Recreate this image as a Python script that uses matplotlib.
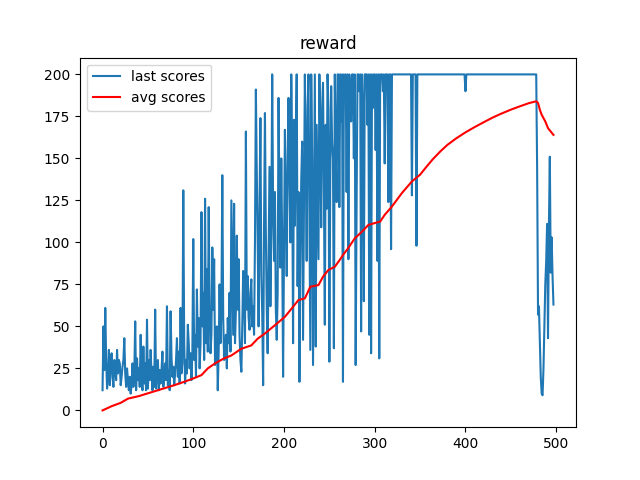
import numpy as np
import matplotlib
matplotlib.use("Agg")
import matplotlib.pyplot as plt

last_scores = [
    12, 50, 24, 61, 30, 13, 22, 36, 15, 28,
    34, 20, 14, 30, 25, 18, 36, 22, 30, 28,
    15, 20, 26, 30, 43, 22, 14, 25, 18, 12,
    20, 10, 15, 28, 14, 22, 53, 12, 31, 18,
    25, 14, 45, 20, 12, 38, 16, 28, 12, 54,
    13, 30, 18, 36, 22, 12, 26, 14, 60, 13,
    22, 30, 12, 24, 16, 24, 35, 14, 20, 28,
    18, 62, 15, 24, 12, 59, 32, 20, 26, 15,
    22, 30, 43, 20, 35, 16, 61, 22, 28, 131,
    40, 16, 30, 22, 51, 40, 25, 34, 18, 35,
    102, 30, 45, 20, 72, 38, 55, 25, 40, 118,
    50, 70, 30, 126, 40, 84, 35, 121, 60, 34,
    45, 97, 60, 90, 27, 40, 50, 12, 35, 75,
    40, 60, 140, 55, 30, 34, 45, 25, 55, 40,
    70, 35, 125, 83, 45, 123, 40, 60, 104, 60,
    90, 45, 30, 23, 50, 83, 70, 40, 166, 60,
    80, 55, 48, 70, 78, 50, 62, 45, 100, 191,
    142, 100, 50, 120, 174, 80, 58, 15, 110, 177,
    106, 60, 34, 90, 145, 62, 110, 200, 120, 89,
    130, 60, 42, 70, 186, 120, 85, 150, 100, 20,
    90, 167, 120, 80, 150, 186, 139, 100, 200, 150,
    40, 173, 110, 160, 200, 74, 130, 17, 90, 137,
    160, 42, 120, 200, 150, 89, 180, 200, 120, 36,
    200, 150, 27, 110, 200, 38, 170, 129, 90, 200,
    160, 109, 180, 195, 130, 51, 170, 120, 200, 180,
    29, 140, 193, 160, 150, 37, 200, 153, 124, 200,
    200, 121, 200, 172, 200, 17, 200, 193, 200, 130,
    200, 90, 200, 185, 172, 200, 200, 150, 200, 27,
    121, 200, 200, 190, 200, 47, 200, 180, 65, 200,
    200, 200, 170, 200, 45, 200, 34, 200, 180, 200,
    200, 155, 200, 89, 200, 31, 200, 200, 200, 190,
    200, 147, 200, 200, 200, 124, 200, 200, 96, 200,
    200, 200, 200, 200, 200, 200, 200, 200, 200, 200,
    200, 200, 200, 200, 200, 200, 200, 200, 200, 200,
    200, 128, 200, 200, 200, 200, 98, 200, 200, 200,
    200, 200, 200, 200, 200, 200, 200, 200, 200, 200,
    200, 200, 200, 200, 200, 200, 200, 200, 200, 200,
    200, 200, 200, 200, 200, 200, 200, 200, 200, 200,
    200, 200, 200, 200, 200, 200, 200, 200, 200, 200,
    200, 200, 200, 200, 200, 200, 200, 200, 200, 200,
    190, 200, 200, 200, 200, 200, 200, 200, 200, 200,
    200, 200, 200, 200, 200, 200, 200, 200, 200, 200,
    200, 200, 200, 200, 200, 200, 200, 200, 200, 200,
    200, 200, 200, 200, 200, 200, 200, 200, 200, 200,
    200, 200, 200, 200, 200, 200, 200, 200, 200, 200,
    200, 200, 200, 200, 200, 200, 200, 200, 200, 200,
    200, 200, 200, 200, 200, 200, 200, 200, 200, 200,
    200, 200, 200, 200, 200, 200, 200, 200,
    200, 145, 57, 62, 40, 20, 10, 9, 25, 50,
    75, 89, 111, 43, 110, 151, 82, 103, 80, 63,
]

avg_episodes = [0, 10, 20, 28, 40, 55, 67, 79, 90, 100, 109, 116, 124, 133,
                142, 153, 164, 171, 179, 190, 201, 210, 216, 223, 229, 238,
                243, 249, 256, 262, 265, 270, 278, 286, 293, 300, 306, 311,
                319, 330, 341, 350, 357, 364, 372, 380, 390, 400, 410, 420,
                430, 438, 450, 460, 470, 478, 480, 482, 484, 486, 488, 491,
                494, 497]
avg_scores = [0, 2.5, 4.5, 7, 8.5, 11, 13, 15, 17, 19, 21, 25, 28, 30.7,
              32.7, 36.7, 38.7, 42.7, 45.8, 50.7, 55.7, 61.7, 65.7, 66.7, 73.6,
              74.6, 79.6, 83.6, 85.5, 90, 92.5, 96, 102.4, 106.4, 110.4, 111.5,
              112.4, 116.4, 121.4, 129.4, 136.3, 140.3, 145, 149.5, 154, 158,
              162, 165.5, 168.6, 171.5, 174.3, 176.3, 179, 181, 182.9, 184,
              183, 179, 176, 174, 172, 168, 166, 164]

fig, ax = plt.subplots(figsize=(6.4, 4.8), dpi=100)
ax.plot(np.arange(len(last_scores)), last_scores, color="#1f77b4", label="last scores")
ax.plot(avg_episodes, avg_scores, color="red", label="avg scores")
ax.set_title("reward")
ax.legend(loc="upper left")
fig.savefig("out.png")
